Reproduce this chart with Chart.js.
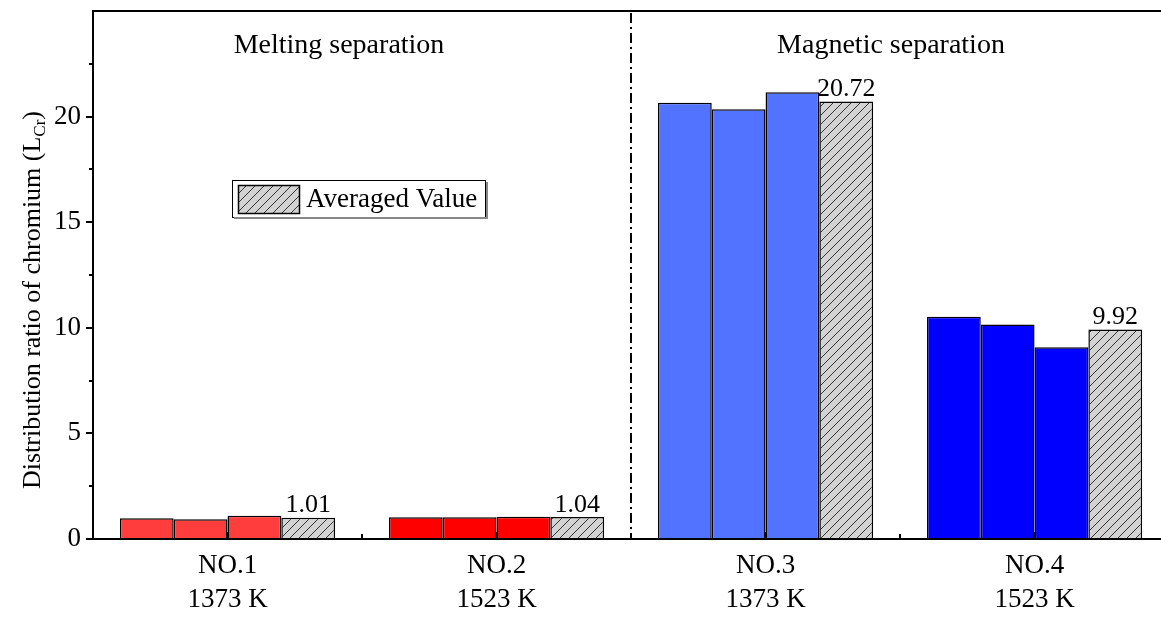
<!DOCTYPE html>
<html>
<head>
<meta charset="utf-8">
<script src="https://cdn.jsdelivr.net/npm/chart.js@4"></script>
<style>
  html, body { margin: 0; padding: 0; background: #fff; overflow: hidden; }
  #barChart { display: block; }
</style>
</head>
<body>
<canvas id="barChart" width="1161" height="617"></canvas>
<script>
const samples = ['NO.1', 'NO.2', 'NO.3', 'NO.4'];
const temps = ['1373 K', '1523 K', '1373 K', '1523 K'];
const run1 = [0.98, 1.03, 20.66, 10.52];
const run2 = [0.94, 1.03, 20.35, 10.16];
const run3 = [1.10, 1.05, 21.15, 9.08];
const averaged = [1.01, 1.04, 20.72, 9.92];
const groupColors = ['#FF3D3D', '#FF0000', '#5273FF', '#0000FF'];
const sections = ['Melting separation', 'Magnetic separation'];
const yTicks = [0, 5, 10, 15, 20];

const FONT = '"Liberation Serif", "Times New Roman", serif';

function hatch() {
    const c = document.createElement('canvas');
    c.width = 9; c.height = 9;
    const g = c.getContext('2d');
    g.fillStyle = '#D3D3D3';
    g.fillRect(0, 0, 9, 9);
    g.strokeStyle = '#333';
    g.lineWidth = 1;
    g.beginPath();
    g.moveTo(-1, 10); g.lineTo(10, -1);
    g.moveTo(-1, 1); g.lineTo(1, -1);
    g.moveTo(8, 10); g.lineTo(10, 8);
    g.stroke();
    return g.createPattern(c, 'repeat');
}
const hatchFill = hatch();

const xy = arr => arr.map((v, i) => ({ x: i + 1, y: v }));

// frame, minor ticks, divider, section titles, value labels, legend, y title
const decor = {
    id: 'decor',
    afterDraw(chart) {
        const ctx = chart.ctx;
        const area = chart.chartArea;
        const xs = chart.scales.x, ys = chart.scales.y;
        ctx.save();
        ctx.strokeStyle = '#000';
        ctx.lineWidth = 2;
        ctx.beginPath();
        ctx.moveTo(area.left, area.bottom);
        ctx.lineTo(area.left, area.top);
        ctx.lineTo(area.right, area.top);
        ctx.moveTo(area.left - 1, area.bottom);
        ctx.lineTo(area.right, area.bottom);
        ctx.stroke();

        // y ticks (outward)
        ctx.lineWidth = 2;
        ctx.beginPath();
        for (let v = 0; v < 25; v += 2.5) {
            const y = Math.round(ys.getPixelForValue(v));
            const len = v % 5 === 0 ? 7 : 4;
            ctx.moveTo(area.left - len, y); ctx.lineTo(area.left, y);
        }
        // x ticks (inward)
        for (let v = 1; v <= 4.5; v += 0.5) {
            const x = Math.round(xs.getPixelForValue(v));
            const len = Number.isInteger(v) ? 7 : 5;
            ctx.moveTo(x, area.bottom); ctx.lineTo(x, area.bottom - len);
        }
        ctx.stroke();

        // dash-dot divider
        const xd = Math.round(xs.getPixelForValue(2.5));
        ctx.lineWidth = 2;
        ctx.setLineDash([10, 4, 2, 4]);
        ctx.beginPath();
        ctx.moveTo(xd, area.top + 2);
        ctx.lineTo(xd, area.bottom);
        ctx.stroke();
        ctx.setLineDash([]);

        ctx.fillStyle = '#000';
        ctx.font = '28px ' + FONT;
        ctx.textAlign = 'center';
        ctx.textBaseline = 'middle';
        ctx.fillText(sections[0], 339, 46);
        ctx.fillText(sections[1], 891, 46);

        // value labels on averaged bars
        ctx.font = '26px ' + FONT;
        ctx.textBaseline = 'bottom';
        const meta = chart.getDatasetMeta(3);
        meta.data.forEach((bar, i) => {
            ctx.fillText(averaged[i].toFixed(2), bar.x, bar.y + 1);
        });

        // legend
        ctx.lineWidth = 1;
        ctx.strokeStyle = '#000';
        ctx.strokeRect(232.5, 180.5, 253, 37);
        ctx.fillStyle = '#888';
        ctx.fillRect(234, 217, 253, 2);
        ctx.fillRect(486, 182, 2, 37);
        ctx.fillStyle = hatchFill;
        ctx.fillRect(238, 185, 62, 29);
        ctx.lineWidth = 1.5;
        ctx.strokeRect(238.5, 185.5, 61, 28);
        ctx.fillStyle = '#000';
        ctx.textAlign = 'left';
        ctx.textBaseline = 'middle';
        ctx.font = '27px ' + FONT;
        ctx.fillText('Averaged Value', 306, 200);

        // y axis title with subscript
        ctx.translate(33, 300);
        ctx.rotate(-Math.PI / 2);
        const main = 'Distribution ratio of chromium (L';
        ctx.font = '26px ' + FONT;
        const w1 = ctx.measureText(main).width;
        ctx.font = '17px ' + FONT;
        const w2 = ctx.measureText('Cr').width;
        ctx.font = '26px ' + FONT;
        const w3 = ctx.measureText(')').width;
        let x0 = -(w1 + w2 + w3) / 2;
        ctx.fillText(main, x0, 0);
        ctx.font = '17px ' + FONT;
        ctx.fillText('Cr', x0 + w1, 8);
        ctx.font = '26px ' + FONT;
        ctx.fillText(')', x0 + w1 + w2, 0);
        ctx.restore();
    }
};

const mk = (label, data) => ({
    label: label,
    data: xy(data),
    backgroundColor: groupColors,
    borderColor: '#000',
    borderWidth: 1.5
});

new Chart(document.getElementById('barChart').getContext('2d'), {
    type: 'bar',
    data: {
        datasets: [
            mk('Run 1', run1),
            mk('Run 2', run2),
            mk('Run 3', run3),
            {
                label: 'Averaged Value',
                data: xy(averaged),
                backgroundColor: hatchFill,
                borderColor: '#000',
                borderWidth: 1.5
            }
        ]
    },
    options: {
        responsive: false,
        animation: false,
        devicePixelRatio: 1,
        layout: { padding: { top: 11, right: 0, left: 0, bottom: 0 } },
        datasets: { bar: { categoryPercentage: 0.8, barPercentage: 1.0 } },
        plugins: { legend: { display: false }, tooltip: { enabled: false } },
        scales: {
            x: {
                type: 'linear',
                offset: false,
                min: 0.5,
                max: 4.47,
                afterBuildTicks: axis => { axis.ticks = samples.map((s, i) => ({ value: i + 1 })); },
                afterFit: axis => { axis.height = 78; axis.paddingLeft = 0; axis.paddingRight = 0; },
                grid: { display: false, drawTicks: false },
                border: { display: false },
                ticks: {
                    color: '#000',
                    padding: 10,
                    autoSkip: false,
                    font: { family: FONT, size: 27, lineHeight: 1.26 },
                    maxRotation: 0,
                    callback: v => [samples[v - 1], temps[v - 1]]
                }
            },
            y: {
                min: 0,
                max: 25,
                afterBuildTicks: axis => { axis.ticks = yTicks.map(v => ({ value: v })); },
                afterFit: axis => { axis.width = 93; axis.paddingTop = 0; axis.paddingBottom = 0; },
                grid: { display: false, drawTicks: false },
                border: { display: false },
                ticks: {
                    color: '#000',
                    padding: 12,
                    font: { family: FONT, size: 27 }
                }
            }
        }
    },
    plugins: [decor]
});
</script>
</body>
</html>
